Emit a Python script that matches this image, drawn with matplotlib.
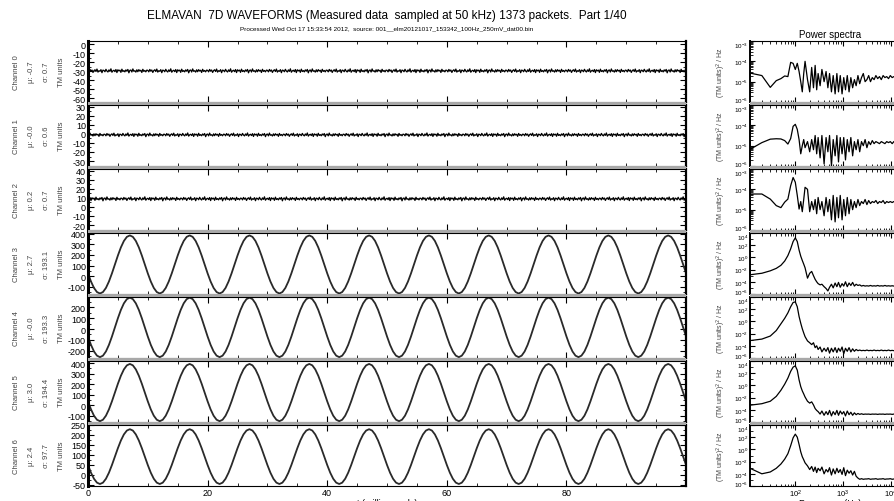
import numpy as np
import matplotlib
matplotlib.use("Agg")
import matplotlib.pyplot as plt
from matplotlib.patches import Rectangle
from matplotlib.transforms import ScaledTranslation
from matplotlib.ticker import MultipleLocator, FixedLocator, LogLocator, NullFormatter, LogFormatterSciNotation

plt.rcParams['font.family'] = ['Liberation Sans']
plt.rcParams['axes.unicode_minus'] = False

title = "ELMAVAN  7D WAVEFORMS (Measured data  sampled at 50 kHz) 1373 packets.  Part 1/40"
subtitle = "Processed Wed Oct 17 15:33:54 2012,  source: 001__elm20121017_153342_100Hz_250mV_dat00.bin"

channels = ["Channel 0", "Channel 1", "Channel 2", "Channel 3", "Channel 4", "Channel 5", "Channel 6"]
mu = ["-0.7", "-0.0", "0.2", "2.7", "-0.0", "3.0", "2.4"]
sigma = ["0.7", "0.6", "0.7", "193.1", "193.3", "194.4", "97.7"]

# y range and tick step of each waveform panel
wave_ylim = [(-64, 3.5), (-35.5, 32), (-25.5, 42), (-170, 408), (-265, 293), (-160, 420), (-55, 250)]
wave_ystep = [10, 10, 10, 100, 100, 100, 50]

# channels 0-2: flat noisy traces
noise_level = [-29.5, -1.0, 9.0]
noise_spread = [1.3, 1.2, 1.3]
jitter = [0.4, -0.9, 1.2, -0.3, 0.7, -1.4, 0.2, 0.9, -0.6, 1.5, -1.1, 0.1, -0.4, 1.0, -1.6,
          0.6, 0.3, -0.8, 1.3, -0.2, -1.0, 0.8, -0.5, 1.7, -1.2, 0.0, 0.5, -0.7, 1.1, -1.5,
          0.9, -0.1, 0.6, -1.3, 1.4, -0.6, 0.2, -0.9, 0.8, -0.3, 1.2, -1.7, 0.4, 0.7, -1.0,
          1.6, -0.4, 0.1, -1.1, 0.9, -0.8, 1.0, -0.2, 0.5, -1.4, 1.3, -0.5, 0.3, -0.9, 0.6]

# channels 3-6: 100 Hz sine, one 10 ms cycle read every 0.5 ms
sine_centre = [110, 15, 120, 92]
sine_swing = [275, 272, 272, 137]
cycle = [-0.309, -0.588, -0.809, -0.951, -1.0, -0.951, -0.809, -0.588, -0.309, 0.0,
         0.309, 0.588, 0.809, 0.951, 1.0, 0.951, 0.809, 0.588, 0.309, 0.0]

# power spectra, log10 of (TM units)^2/Hz
freq = [10, 20, 30, 40, 50, 60, 70, 80, 90, 100,
        110, 120, 130, 140, 150, 160, 180, 200,
        220, 240, 260, 280, 300, 330, 360, 400, 440, 480,
        520, 570, 620, 680, 740, 800, 870, 950,
        1030, 1120, 1220, 1330, 1450, 1580, 1720, 1870, 2040,
        2220, 2420, 2640, 2880, 3140, 3420, 3730, 4070, 4440,
        4840, 5280, 5760, 6280, 6850, 7470, 8150, 8890, 9690,
        10600, 11500, 12600, 13700, 15000, 16300, 17800, 19400, 21200, 23100]
psd0 = [-4.55, -4.7, -5.28, -4.95, -4.85, -4.72, -4.75, -4.05, -4.1, -4.4,
        -4.1, -4.5, -5.0, -5.5, -4.6, -4.0, -4.9, -5.5,
        -4.3, -5.3, -4.2, -5.4, -4.6, -5.2, -4.4, -5.0, -4.5, -5.3,
        -4.6, -5.5, -4.7, -5.6, -4.6, -5.5, -4.7, -5.6,
        -4.8, -5.4, -4.7, -5.5, -4.8, -5.3, -4.9, -5.2, -4.7,
        -5.1, -4.8, -4.6, -5.0, -4.9, -4.7, -5.0, -4.8, -4.9,
        -4.7, -4.85, -4.75, -4.9, -4.7, -4.8, -4.75, -4.85, -4.7,
        -4.8, -4.75, -4.8, -4.7, -4.8, -4.75, -4.8, -4.75, -4.8, -4.78]
psd1 = [-5.25, -4.85, -4.68, -4.66, -4.67, -4.75, -4.92, -4.65, -4.05, -3.95,
        -4.2, -4.7, -5.4, -5.0, -4.7, -5.1, -4.8, -5.3,
        -4.7, -5.2, -4.5, -5.4, -4.6, -5.6, -4.5, -5.9, -4.6, -5.3,
        -4.5, -6.0, -4.7, -5.5, -4.5, -5.8, -4.6, -5.4,
        -4.6, -5.7, -4.7, -5.3, -4.6, -5.5, -4.8, -5.2, -4.7,
        -5.3, -4.8, -5.0, -4.7, -5.1, -4.8, -4.95, -4.75, -4.9,
        -4.8, -4.85, -4.9, -4.8, -4.85, -4.9, -4.8, -4.85, -4.8,
        -4.9, -4.8, -4.85, -4.8, -4.85, -4.8, -4.85, -4.8, -4.85, -4.82]
psd2 = [-4.23, -4.23, -4.48, -4.8, -4.9, -4.63, -4.48, -3.82, -3.42, -3.65,
        -4.3, -4.97, -4.6, -5.1, -4.5, -3.9, -4.0, -5.1,
        -4.6, -5.0, -4.5, -5.2, -4.4, -5.0, -4.6, -5.3, -4.4, -5.1,
        -4.5, -5.5, -4.3, -5.6, -4.4, -5.4, -4.3, -5.5,
        -4.5, -5.3, -4.4, -5.2, -4.5, -5.0, -4.6, -4.9, -4.5,
        -4.8, -4.6, -4.7, -4.5, -4.75, -4.55, -4.7, -4.6, -4.65,
        -4.55, -4.7, -4.6, -4.65, -4.55, -4.7, -4.6, -4.65, -4.6,
        -4.65, -4.6, -4.65, -4.6, -4.65, -4.6, -4.65, -4.6, -4.65, -4.62]
psd3 = [-2.9, -2.6, -2.2, -1.8, -1.3, -0.6, 0.3, 1.4, 2.6, 3.2,
        2.6, 1.2, 0.2, -0.5, -1.1, -1.7, -3.4, -2.6,
        -2.3, -3.0, -3.6, -4.0, -4.3, -4.5, -4.4, -4.8, -5.1, -5.5,
        -4.9, -4.4, -5.0, -4.2, -4.8, -4.1, -4.9, -4.3,
        -4.7, -4.0, -4.8, -4.2, -4.6, -4.1, -4.7, -4.4, -4.6,
        -4.5, -4.7, -4.6, -4.7, -4.65, -4.7, -4.6, -4.7, -4.65,
        -4.7, -4.6, -4.7, -4.65, -4.7, -4.6, -4.7, -4.65, -4.7,
        -4.65, -4.7, -4.65, -4.7, -4.65, -4.7, -4.65, -4.7, -4.65, -4.68]
psd4 = [-3.2, -2.9, -2.4, -1.5, -0.4, 0.5, 1.4, 2.4, 3.1, 3.2,
        2.4, 0.8, -0.3, -1.2, -1.9, -2.5, -3.2, -3.5,
        -3.8, -3.5, -4.3, -4.0, -4.6, -4.2, -5.0, -4.4, -4.9, -4.3,
        -5.2, -4.4, -5.0, -4.3, -5.1, -4.4, -4.9, -4.2,
        -5.3, -4.4, -4.9, -4.3, -5.0, -4.5, -4.9, -4.6, -4.8,
        -4.7, -4.8, -4.75, -4.8, -4.7, -4.8, -4.75, -4.8, -4.7,
        -4.8, -4.75, -4.8, -4.7, -4.8, -4.75, -4.8, -4.7, -4.8,
        -4.75, -4.8, -4.7, -4.8, -4.75, -4.8, -4.7, -4.8, -4.75, -4.78]
psd5 = [-3.3, -3.0, -2.6, -1.8, -0.8, 0.2, 1.2, 2.3, 3.0, 3.2,
        2.5, 0.9, -0.2, -0.9, -1.4, -1.9, -2.6, -2.9,
        -2.7, -3.2, -3.8, -4.1, -4.3, -4.7, -4.2, -4.9, -4.3, -4.8,
        -4.1, -5.0, -4.3, -4.8, -4.1, -4.9, -4.2, -4.7,
        -4.3, -5.0, -4.2, -4.8, -4.4, -4.9, -4.5, -4.8, -4.6,
        -4.75, -4.65, -4.75, -4.7, -4.72, -4.7, -4.75, -4.7, -4.72,
        -4.7, -4.75, -4.7, -4.72, -4.7, -4.75, -4.7, -4.72, -4.7,
        -4.75, -4.7, -4.72, -4.7, -4.75, -4.7, -4.72, -4.7, -4.75, -4.72]
psd6 = [-2.9, -4.0, -3.7, -3.1, -2.4, -1.6, -0.7, 0.6, 1.9, 2.5,
        2.0, 0.8, -0.4, -1.2, -1.7, -2.2, -2.7, -3.3,
        -2.8, -3.6, -2.9, -3.8, -3.1, -3.5, -2.9, -4.0, -3.3, -3.7,
        -3.0, -4.2, -3.2, -4.0, -3.1, -3.8, -3.3, -4.1,
        -3.0, -4.3, -3.4, -3.9, -3.5, -4.2, -3.6, -4.4, -4.7,
        -4.9, -4.8, -4.9, -4.85, -4.85, -4.8, -4.9, -4.85, -4.85,
        -4.8, -4.9, -4.85, -4.85, -4.8, -4.9, -4.85, -4.85, -4.8,
        -4.9, -4.85, -4.85, -4.8, -4.9, -4.85, -4.85, -4.8, -4.9, -4.85]
spectra = [psd0, psd1, psd2, psd3, psd4, psd5, psd6]

W, H = 895, 502
fig = plt.figure(figsize=(W / 100, H / 100), dpi=100)

row_top = [42, 106, 170, 234, 298, 362, 426]
row_h = 61
wave_x0, wave_x1 = 88, 686
spec_x0, spec_x1 = 750, 910


def fig_box(x0, x1, top, h):
    return [x0 / W, 1 - (top + h) / H, (x1 - x0) / W, h / H]


spec_axes = []
for i in range(7):
    # --- waveform panel ---
    ax = fig.add_axes(fig_box(wave_x0, wave_x1, row_top[i], row_h))
    if i < 3:
        trace = np.roll(jitter, i * 17)
        trace = np.concatenate([trace] * 10 + [trace[:1]])
        trace = noise_level[i] + noise_spread[i] * trace
        ax.plot(np.arange(len(trace)) * (100 / (len(trace) - 1)), trace, color='black', lw=0.9)
    else:
        k = i - 3
        trace = np.concatenate([cycle] * 10 + [cycle[:1]])
        trace = sine_centre[k] + sine_swing[k] * trace
        ax.plot(np.arange(len(trace)) * 0.5, trace, color='#2a2a2a', lw=1.3)
    ax.set_xlim(0, 99.98)
    ax.set_ylim(*wave_ylim[i])
    ax.xaxis.set_major_locator(MultipleLocator(20))
    ax.xaxis.set_minor_locator(MultipleLocator(5))
    ax.yaxis.set_major_locator(MultipleLocator(wave_ystep[i]))
    ax.yaxis.set_minor_locator(MultipleLocator(wave_ystep[i] / 2))
    ax.tick_params(which='both', direction='in', top=True, right=True, labelsize=6.5, pad=1.5)
    ax.tick_params(which='major', length=4, width=0.8)
    ax.tick_params(which='minor', length=2, width=0.6)
    for s in ax.spines.values():
        s.set_linewidth(0.8)
    ax.spines['left'].set_linewidth(2.2)
    ax.spines['right'].set_linewidth(1.6)
    if i < 6:
        ax.set_xticklabels([])
    else:
        ax.tick_params(axis='x', labelsize=6.5)

    yc = 1 - (row_top[i] + row_h / 2) / H
    for x, txt in zip([17, 32, 47, 62], [channels[i], "μ: " + mu[i], "σ: " + sigma[i], "TM units"]):
        fig.text(x / W, yc, txt, rotation=90, ha='center', va='center', fontsize=5.5, color='#444444')

    # --- spectrum panel ---
    sx = fig.add_axes(fig_box(spec_x0, spec_x1, row_top[i], row_h))
    sx.plot(freq, 10.0 ** np.array(spectra[i]), color='black', lw=0.9)
    sx.set_xscale('log')
    sx.set_yscale('log')
    sx.set_xlim(11.3, 25000)
    if i < 3:
        sx.set_ylim(1e-6, 1e-3)
        sx.yaxis.set_major_locator(FixedLocator([1e-6, 1e-5, 1e-4, 1e-3]))
        sx.yaxis.set_minor_locator(LogLocator(subs=range(2, 10)))
    else:
        sx.set_ylim(1e-6, 1e4)
        sx.yaxis.set_major_locator(FixedLocator([1e-6, 1e-4, 1e-2, 1e0, 1e2, 1e4]))
        sx.yaxis.set_minor_locator(FixedLocator([1e-5, 1e-3, 1e-1, 1e1, 1e3]))
    sx.yaxis.set_major_formatter(LogFormatterSciNotation())
    sx.yaxis.set_minor_formatter(NullFormatter())
    sx.xaxis.set_major_locator(LogLocator(numticks=10))
    sx.xaxis.set_minor_locator(LogLocator(subs=range(2, 10), numticks=20))
    sx.xaxis.set_minor_formatter(NullFormatter())
    sx.tick_params(which='both', direction='in', top=True, right=True, labelsize=4.5, pad=1.5)
    sx.tick_params(which='major', length=3.5, width=0.8)
    sx.tick_params(which='minor', length=1.8, width=0.6)
    for s in sx.spines.values():
        s.set_linewidth(0.8)
    sx.spines['left'].set_linewidth(1.4)
    if i < 6:
        sx.set_xticklabels([])
    else:
        sx.tick_params(axis='x', labelsize=5.5, pad=1)
    fig.text(721 / W, yc, "(TM units)$^2$ / Hz", rotation=90, ha='center', va='center',
             fontsize=5, color='#444444')
    spec_axes.append(sx)

# grey bands between the rows
for i in range(6):
    y0 = 1 - (row_top[i + 1]) / H
    hh = (row_top[i + 1] - row_top[i] - row_h) / H
    for x0, x1 in [(wave_x0, wave_x1), (spec_x0, spec_x1)]:
        fig.add_artist(Rectangle((x0 / W, y0), (x1 - x0) / W, hh, transform=fig.transFigure,
                                 facecolor='#a8a8a8', edgecolor='none'))

fig.text(387 / W, 1 - 16 / H, title, ha='center', va='center', fontsize=8.5)
fig.text(387 / W, 1 - 29 / H, subtitle, ha='center', va='center', fontsize=4.6)
fig.text(830 / W, 1 - 35 / H, "Power spectra", ha='center', va='center', fontsize=7)
fig.text(387 / W, 1 - 499 / H, "t (milliseconds)", ha='center', va='top', fontsize=6.5)
fig.text(830 / W, 1 - 499.5 / H, "Frequency (Hz)", ha='center', va='top', fontsize=6.5)

# nudge the edge labels of stacked spectra a little apart
fig.canvas.draw()
up = ScaledTranslation(0, 2.2 / 72, fig.dpi_scale_trans)
down = ScaledTranslation(0, -2.2 / 72, fig.dpi_scale_trans)
for sx in spec_axes:
    labels = sx.get_yticklabels()
    labels[0].set_transform(labels[0].get_transform() + up)
    labels[-1].set_transform(labels[-1].get_transform() + down)

fig.savefig("out.png", dpi=100)
